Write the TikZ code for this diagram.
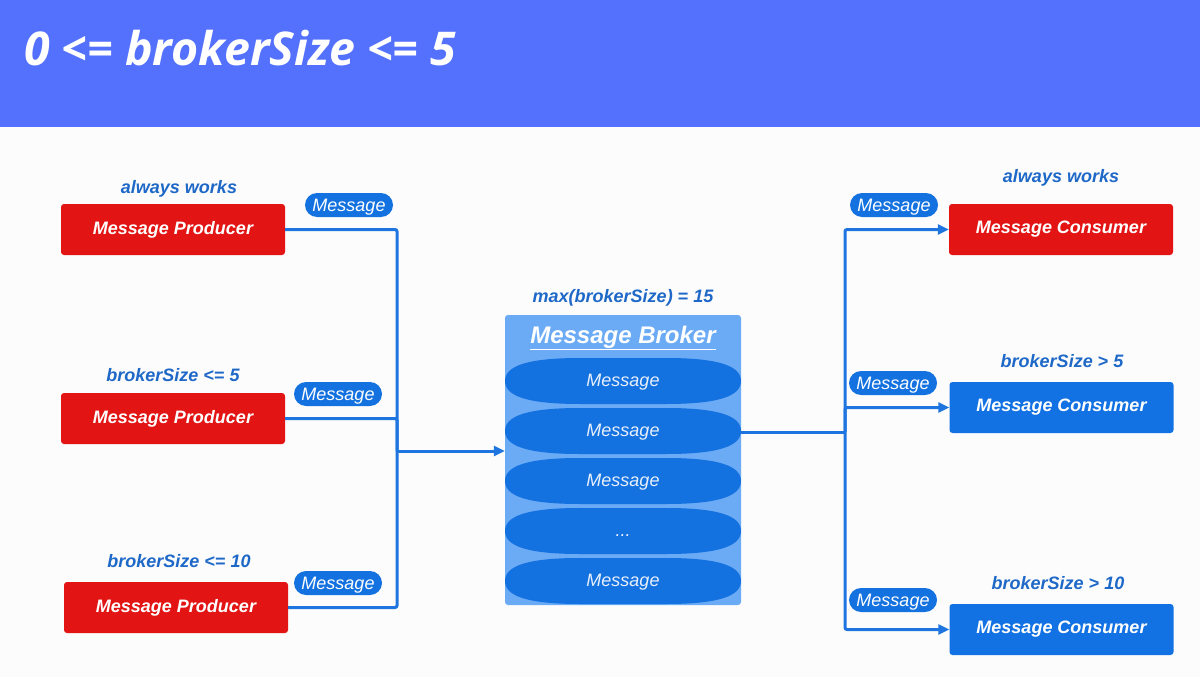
\documentclass[tikz,border=0pt]{standalone}
\usepackage{fontspec}
\setmainfont{Liberation Sans}
\newfontfamily\titlefont{Open Sans}
\usetikzlibrary{arrows.meta}
\definecolor{chead}{HTML}{5471FE}
\definecolor{cred}{HTML}{E21414}
\definecolor{cblue}{HTML}{1271E3}
\definecolor{clabel}{HTML}{1E68C8}
\definecolor{cline}{HTML}{1E75DF}
\definecolor{cbroker}{HTML}{6BAAF5}
\definecolor{cmsg}{HTML}{1472E0}
\definecolor{cmsgtext}{HTML}{E8F0FB}
\newcommand\brokermsgshape[1]{\fill[cmsg] (505,#1) .. controls (505,#1-15) and (527,#1-23) .. (580,#1-23) -- (666,#1-23) .. controls (719,#1-23) and (741,#1-15) .. (741,#1) .. controls (741,#1+15) and (719,#1+23) .. (666,#1+23) -- (580,#1+23) .. controls (527,#1+23) and (505,#1+15) .. (505,#1) -- cycle;}
\begin{document}
\begin{tikzpicture}[x=1pt,y=-1pt,
  box/.style={rounded corners=3pt, minimum width=224pt, minimum height=51pt, inner sep=0pt, text=white, font=\fontsize{18}{20}\selectfont\bfseries\itshape},
  redbox/.style={box, fill=cred},
  bluebox/.style={box, fill=cblue},
  cond/.style={anchor=base, inner sep=0pt, text=clabel, font=\fontsize{18}{20}\selectfont\bfseries\itshape},
  pill/.style={fill=cmsg, rounded corners=12pt, minimum width=88pt, minimum height=24pt, inner sep=0pt, text height=15pt, text depth=2pt, text=white, font=\fontsize{18}{20}\selectfont\itshape},
  msgtext/.style={minimum width=236pt, minimum height=46pt, inner sep=0pt, text height=14.5pt, text depth=3pt, text=cmsgtext, font=\fontsize{18}{20}\selectfont\itshape},
  conn/.style={draw=cline, line width=3pt, rounded corners=2pt},
  arr/.style={conn, -{Triangle[length=11pt,width=10pt]}}
]
\useasboundingbox (0,0) rectangle (1200,677);
\fill[white!99!black] (0,0) rectangle (1200,677);
\fill[chead] (0,0) rectangle (1200,127);
\node[anchor=base west, inner sep=0pt, text=white, font=\titlefont\fontsize{46.5}{52}\selectfont\bfseries\itshape] (title) at (24,66) {0 <= brokerSize <= 5};

% producers
\node[redbox] (P1) at (173,229.5) {Message Producer};
\node[redbox] (P2) at (173,418.5) {Message Producer};
\node[redbox] (P3) at (176,607.5) {Message Producer};
\node[cond] (L1) at (179,193) {always works};
\node[cond] (L2) at (173,381) {brokerSize <= 5};
\node[cond] (L3) at (179,567) {brokerSize <= 10};

% consumers
\node[redbox] (C1) at (1061,229.5) {Message Consumer};
\node[bluebox] (C2) at (1061.5,407.5) {Message Consumer};
\node[bluebox] (C3) at (1061.5,629.5) {Message Consumer};
\node[cond] (R1) at (1061,182) {always works};
\node[cond] (R2) at (1062,367) {brokerSize > 5};
\node[cond] (R3) at (1058,589) {brokerSize > 10};

% broker
\node[cond] (max) at (623,302) {max(brokerSize) = 15};
\node[fill=cbroker, rounded corners=3pt, minimum width=236pt, minimum height=290pt, inner sep=0pt] (broker) at (623,460) {};
\node[inner sep=0pt, text=white, font=\fontsize{24}{28}\selectfont\bfseries\itshape] (btitle) at (623,338) {\underline{Message Broker}};
\brokermsgshape{381}
\brokermsgshape{431}
\brokermsgshape{481}
\brokermsgshape{531}
\brokermsgshape{581}
\node[msgtext] (m1) at (623,381) {Message};
\node[msgtext] (m2) at (623,431) {Message};
\node[msgtext] (m3) at (623,481) {Message};
\node[msgtext] (m4) at (623,531) {...};
\node[msgtext] (m5) at (623,581) {Message};

% connectors left
\coordinate (J) at (397,451);
\draw[conn] (P1.east) -| (J);
\draw[conn] (P2.east) -| (J);
\draw[conn] (P3.east) -| (J);
\draw[arr] (J) -- (broker.west |- J);

% connectors right
\coordinate (K) at (845,432);
\draw[conn] (m2.east |- K) -- (K);
\draw[arr] (K) |- (C1.west);
\draw[arr] (K) |- (C2.west);
\draw[arr] (K) |- (C3.west);

% message pills
\node[pill] (ML1) at (349,205) {Message};
\node[pill] (ML2) at (338,394) {Message};
\node[pill] (ML3) at (338,583) {Message};
\node[pill] (MR1) at (894,205) {Message};
\node[pill] (MR2) at (893,383) {Message};
\node[pill] (MR3) at (893,600) {Message};
\end{tikzpicture}
\end{document}
